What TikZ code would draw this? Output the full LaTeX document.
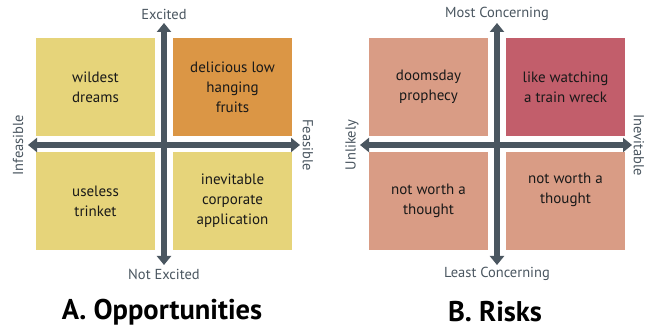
\documentclass[tikz,border=0pt]{standalone}
\usepackage{fontspec}
\setmainfont{PT Sans}
\usetikzlibrary{arrows.meta}
\definecolor{axisgray}{HTML}{4A5660}
\definecolor{quadyellow}{HTML}{E6D47A}
\definecolor{quadorange}{HTML}{DB9645}
\definecolor{quadsalmon}{HTML}{D99C85}
\definecolor{quadred}{HTML}{C25E6B}
\tikzset{
	quad/.style={minimum width=119pt, minimum height=98pt, inner sep=0pt,
		align=center, font=\fontsize{15}{20}\selectfont, text=black!90},
	axis/.style={axisgray, line width=6pt, {Triangle[length=9pt,width=14pt]}-{Triangle[length=9pt,width=14pt]}},
	axislabel/.style={axisgray, font=\fontsize{14.5}{16}\selectfont, inner sep=0pt},
	paneltitle/.style={font=\fontsize{28.5}{30}\bfseries\selectfont, inner sep=0pt}
}
\begin{document}
\begin{tikzpicture}[x=1pt,y=1pt]
		\useasboundingbox[fill=white] (0,0) rectangle (656,329);
		
		% A. Opportunities
		\node[quad, fill=quadyellow] (wild) at (95.5,242) {wildest\\dreams};
		\node[quad, fill=quadorange] (fruit) at (232.5,242) {delicious low\\hanging\\fruits};
		\node[quad, fill=quadyellow] (trink) at (95.5,128) {useless\\trinket};
		\node[quad, fill=quadyellow] (corp) at (232.5,128) {inevitable\\corporate\\application};
		
		\coordinate (aup) at (164,306);
		\coordinate (adown) at (164,64);
		\coordinate (aleft) at (28,184);
		\coordinate (aright) at (300,184);
		\draw[axis] (adown) -- (aup);
		\draw[axis] (aleft) -- (aright);
		
		\node[axislabel] (exc) at (164,315) {Excited};
		\node[axislabel] (nexc) at (164,55) {Not Excited};
		\node[axislabel, rotate=90] (infs) at (18,184) {Infeasible};
		\node[axislabel, rotate=-90] (feas) at (308,184) {Feasible};
		
		\node[paneltitle] (opp) at (162,17) {A. Opportunities};
		
		% B. Risks
		\node[quad, fill=quadsalmon] (doom) at (428.5,242) {doomsday\\prophecy};
		\node[quad, fill=quadred] (wreck) at (565.5,242) {like watching\\a train wreck};
		\node[quad, fill=quadsalmon] (nwl) at (428.5,128) {not worth a\\thought};
		\node[quad, fill=quadsalmon] (nwr) at (565.5,128) {};
		\node[align=center, font=\fontsize{15}{20}\selectfont, text=black!90] at (565.5,139) {not worth a\\thought};
		
		\coordinate (bup) at (497,306);
		\coordinate (bdown) at (497,64);
		\coordinate (bleft) at (360,184);
		\coordinate (bright) at (632,184);
		\draw[axis] (bdown) -- (bup);
		\draw[axis] (bleft) -- (bright);
		
		\node[axislabel] (most) at (497,315) {Most Concerning};
		\node[axislabel] (least) at (497,55) {Least Concerning};
		\node[axislabel, rotate=90] (unl) at (352,184) {Unlikely};
		\node[axislabel, rotate=-90] (inev) at (639,184) {Inevitable};
		
		\node[paneltitle] (risk) at (495,17) {B. Risks};
\end{tikzpicture}
\end{document}
